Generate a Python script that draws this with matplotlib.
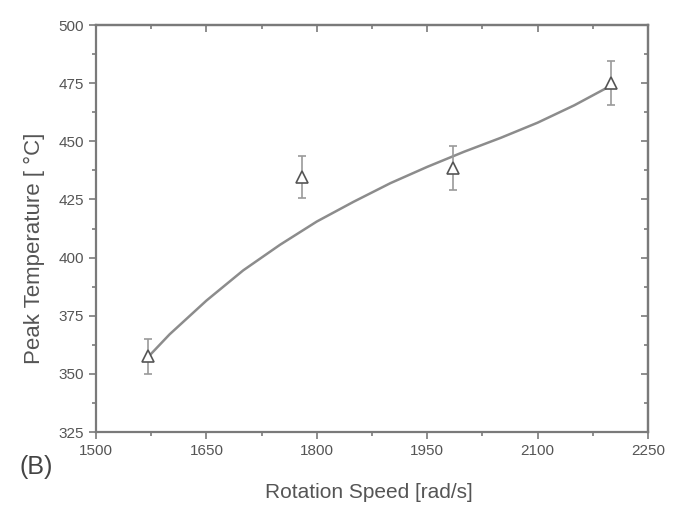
"""Peak temperature vs rotation speed, panel (B)."""

import matplotlib.pyplot as plt
from matplotlib.ticker import MultipleLocator

plt.rcParams["font.family"] = ["Liberation Sans", "DejaVu Sans"]

# ── Datos ────────────────────────────────────────────────────────────────────

velocidad = [1570, 1780, 1985, 2200]
temperatura = [357.5, 434.5, 438.5, 475.0]
error = [7.5, 9.0, 9.5, 9.5]

curva_x = [1570, 1600, 1650, 1700, 1750, 1800, 1850, 1900,
           1950, 2000, 2050, 2100, 2150, 2200]
curva_y = [357, 367, 381.5, 394.5, 405.5, 415.5, 424, 432,
           439, 445.5, 451.5, 458, 465.5, 474]

GRIS = "#7a7a7a"
TEXTO = "#555555"

fig = plt.figure(figsize=(6.79, 5.18), dpi=100)
ax = fig.add_axes([0.1414, 0.166, 0.8129, 0.7857])

ax.plot(curva_x, curva_y, color="#8c8c8c", linewidth=1.8, zorder=2)
ax.errorbar(
    velocidad, temperatura, yerr=error,
    fmt="^", markersize=8, markerfacecolor="white", markeredgecolor="#555555",
    markeredgewidth=1.2, ecolor="#9a9a9a", elinewidth=1.2, capsize=3,
    capthick=1.2, zorder=3,
)

ax.set_xlim(1500, 2250)
ax.set_ylim(325, 500)
ax.xaxis.set_major_locator(MultipleLocator(150))
ax.xaxis.set_minor_locator(MultipleLocator(75))
ax.yaxis.set_major_locator(MultipleLocator(25))
ax.yaxis.set_minor_locator(MultipleLocator(12.5))

for lado in ax.spines.values():
    lado.set_color(GRIS)
    lado.set_linewidth(1.6)

ax.tick_params(which="both", direction="out", color=GRIS, width=1.2,
               labelsize=11, labelcolor=TEXTO)
ax.tick_params(which="major", length=5)
ax.tick_params(which="minor", length=3)

derecha = ax.secondary_yaxis("right")
arriba = ax.secondary_xaxis("top")
for eje in (derecha, arriba):
    eje.tick_params(which="both", direction="in", color=GRIS, width=1.2,
                    labelleft=False, labelright=False, labeltop=False)
    eje.tick_params(which="major", length=5)
    eje.tick_params(which="minor", length=3)
derecha.yaxis.set_major_locator(MultipleLocator(25))
derecha.yaxis.set_minor_locator(MultipleLocator(12.5))
arriba.xaxis.set_major_locator(MultipleLocator(150))
arriba.xaxis.set_minor_locator(MultipleLocator(75))
derecha.spines["right"].set_color(GRIS)
derecha.spines["right"].set_linewidth(1.6)
arriba.spines["top"].set_color(GRIS)
arriba.spines["top"].set_linewidth(1.6)

ax.set_xlabel("Rotation Speed [rad/s]", fontsize=15, color=TEXTO)
ax.set_ylabel("Peak Temperature [ °C]", fontsize=16, color=TEXTO)
ax.xaxis.set_label_coords(0.495, -0.125)
ax.yaxis.set_label_coords(-0.092, 0.452)

fig.text(0.028, 0.085, "(B)", fontsize=18, color="#444444")

fig.savefig("out.png", dpi=100)
